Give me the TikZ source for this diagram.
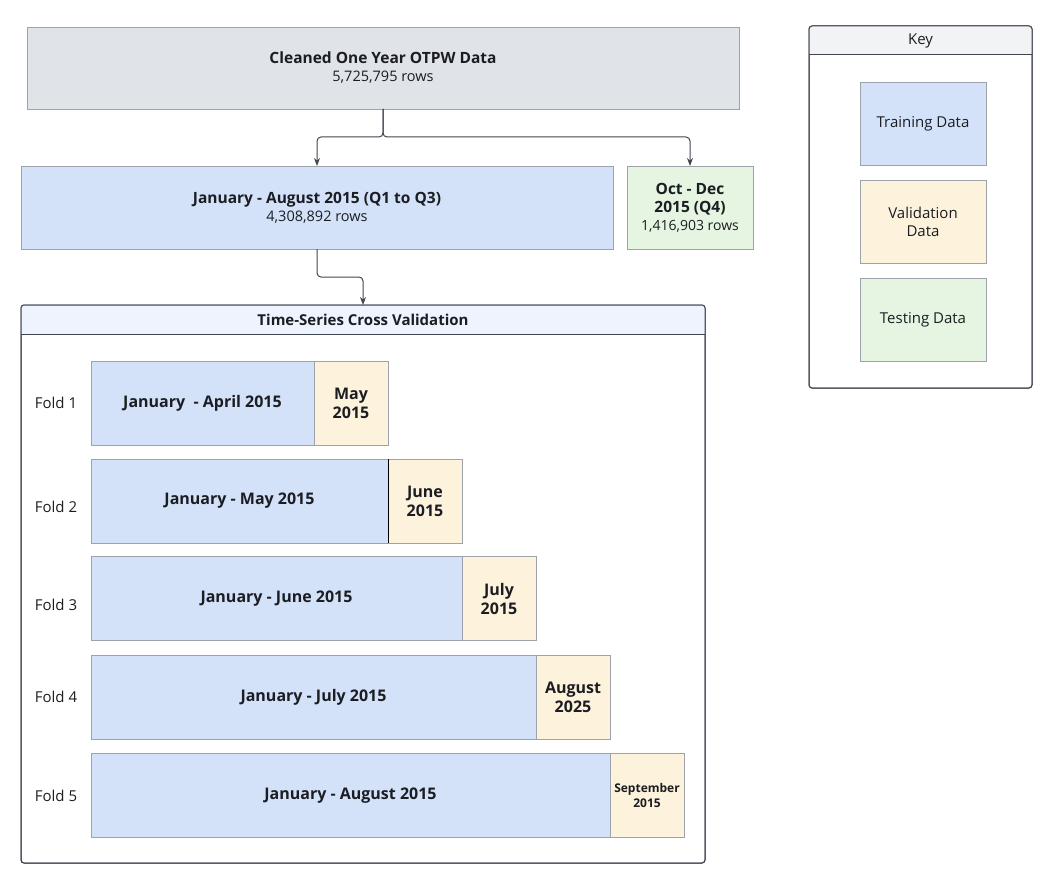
\documentclass[tikz,border=0pt]{standalone}
\usepackage{fontspec}
\setmainfont{Open Sans}
\usetikzlibrary{arrows.meta}
\definecolor{textcol}{HTML}{1B1D22}
\definecolor{edgecol}{HTML}{9DA3AB}
\definecolor{linecol}{HTML}{40454F}
\definecolor{greycol}{HTML}{E0E3E8}
\definecolor{traincol}{HTML}{D3E2F9}
\definecolor{validcol}{HTML}{FDF2DC}
\definecolor{testcol}{HTML}{E5F5E1}
\definecolor{cvhead}{HTML}{EEF4FD}
\definecolor{keyhead}{HTML}{F2F3F5}
\begin{document}
\begin{tikzpicture}[
        x=1pt, y=-1pt,
        font=\fontsize{15}{18}\selectfont,
        text=textcol
    ]
    \tikzset{
        box/.style = {rectangle, draw=edgecol, line width=0.8pt, inner sep=2pt, outer sep=0pt, align=center},
        greybox/.style = {box, fill=greycol},
        trainbox/.style = {box, fill=traincol, minimum height=84pt},
        validbox/.style = {box, fill=validcol, minimum height=84pt, minimum width=74pt},
        testbox/.style = {box, fill=testcol},
        panel/.style = {rectangle, draw=linecol, line width=1pt, rounded corners=3pt, outer sep=0pt},
        foldlabel/.style = {font=\fontsize{15}{18}\selectfont},
        boldtxt/.style = {font=\fontsize{16}{19}\selectfont\bfseries},
        rowtxt/.style = {font=\fontsize{14.5}{18}\selectfont},
        link/.style = {draw=linecol, line width=1pt, rounded corners=4pt, -{Stealth[length=8pt,width=6pt]}},
    }
    \useasboundingbox (0,0) rectangle (1058,880);
    %
    \node[greybox, minimum width=712pt, minimum height=82pt] at (383,68) (top)
        {{\fontsize{15.5}{18}\selectfont\bfseries Cleaned One Year OTPW Data}\\{\fontsize{14.5}{18}\selectfont 5,725,795 rows}};
    \node[trainbox, minimum width=592pt, minimum height=83pt] at (317,207.5) (janaug)
        {{\fontsize{15.5}{18}\selectfont\bfseries January - August 2015 (Q1 to Q3)}\\{\fontsize{14.5}{18}\selectfont 4,308,892 rows}};
    \node[testbox, minimum width=126pt, minimum height=83pt, font=\fontsize{15.5}{18}\selectfont] at (690,207.5) (octdec)
        {{\bfseries Oct - Dec}\\{\bfseries 2015 (Q4)}\\{\fontsize{14}{18}\selectfont 1,416,903 rows}};
    %
    \draw[link] (top.south) -- ++(0,28) -| (janaug.north);
    \draw[link] (top.south) -- ++(0,28) -| (octdec.north);
    %
    % cross validation panel
    \node[panel, minimum width=684pt, minimum height=558pt] at (363,584) (cv) {};
    \begin{scope}
        \clip[rounded corners=3pt] (cv.north west) rectangle (cv.south east);
        \fill[cvhead] (cv.north west) rectangle (705,334);
    \end{scope}
    \draw[linecol, line width=1pt] (21,334) -- (705,334);
    \draw[panel] (cv.north west) rectangle (cv.south east);
    \node[font=\fontsize{15}{18}\selectfont\bfseries] at (363,320) (cvtitle) {Time-Series Cross Validation};
    \draw[link] (janaug.south) -- ++(0,28) -| (cv.north);
    %
    \node[foldlabel] at (56,403) (fold1) {Fold 1};
    \node[trainbox, boldtxt, anchor=west, minimum width=223pt] at (91,403) (tr1) {January\ \ - April 2015};
    \node[validbox, boldtxt, anchor=west] at (tr1.east) (va1) {May\\2015};
    %
    \node[foldlabel] at (56,507) (fold2) {Fold 2};
    \node[trainbox, boldtxt, anchor=west, minimum width=297pt] at (91,501) (tr2) {January - May 2015};
    \node[validbox, boldtxt, anchor=west] at (tr2.east) (va2) {June\\2015};
    \draw[black, line width=1pt] (tr2.north east) -- (tr2.south east);
    %
    \node[foldlabel] at (56,605) (fold3) {Fold 3};
    \node[trainbox, boldtxt, anchor=west, minimum width=371pt] at (91,598.5) (tr3) {January - June 2015};
    \node[validbox, boldtxt, anchor=west] at (tr3.east) (va3) {July\\2015};
    %
    \node[foldlabel] at (56,697) (fold4) {Fold 4};
    \node[trainbox, boldtxt, anchor=west, minimum width=445pt] at (91,697) (tr4) {January - July 2015};
    \node[validbox, boldtxt, anchor=west] at (tr4.east) (va4) {August\\2025};
    %
    \node[foldlabel] at (56,796) (fold5) {Fold 5};
    \node[trainbox, boldtxt, anchor=west, minimum width=519pt] at (91,795.5) (tr5) {January - August 2015};
    \node[validbox, anchor=west, font=\fontsize{12}{15}\selectfont\bfseries] at (tr5.east) (va5) {September\\2015};
    %
    % key panel
    \node[panel, minimum width=223pt, minimum height=362pt] at (920.5,207) (key) {};
    \begin{scope}
        \clip[rounded corners=3pt] (key.north west) rectangle (key.south east);
        \fill[keyhead] (key.north west) rectangle (1032,55);
    \end{scope}
    \draw[linecol, line width=1pt] (809,55) -- (1032,55);
    \draw[panel] (key.north west) rectangle (key.south east);
    \node at (920.5,41) (keytitle) {Key};
    \node[trainbox, minimum width=126pt, minimum height=83pt] at (923,123.5) (keytrain) {Training Data};
    \node[box, fill=validcol, minimum width=126pt, minimum height=83pt] at (923,221.5) (keyvalid) {Validation\\Data};
    \node[testbox, minimum width=126pt, minimum height=83pt] at (923,319.5) (keytest) {Testing Data};
\end{tikzpicture}
\end{document}
